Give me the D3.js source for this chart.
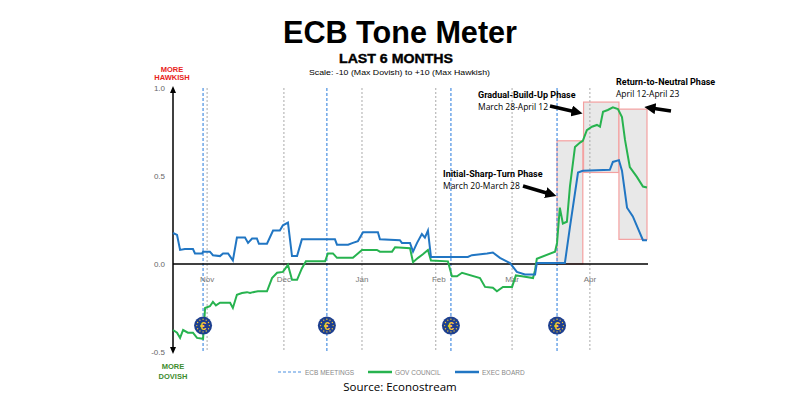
<!DOCTYPE html>
<html><head><meta charset="utf-8">
<script src="https://cdn.jsdelivr.net/npm/d3@7"></script>
<style>body{margin:0;background:#fff}svg{font-family:"Liberation Sans",Arial,sans-serif}</style>
</head><body><svg id="c" width="800" height="418"></svg>
<script>
// days since 18 Oct 2023
const execDays=[0,1.6,2.8,4.7,7.9,8.7,11.5,11.9,14.6,15.8,18.6,19.8,21.8,23.7,25.3,28.5,29.7,31.3,33.2,34,37.2,39.6,42.3,43.5,45.5,47.1,49.1,51,64.1,64.9,69.3,71.2,73.2,75.2,81.1,81.9,89.8,90.6,93.8,95,96.6,98.5,99.7,100.9,102.1,116.7,118.3,124.3,126.6,129.4,133.4,136.1,139.3,143.3,144,150.4,152,155.1,157.1,160.3,162.2,172.9,174.1,176.5,177.7,179.7,182,186,187.6];
const execVals=[.176,.165,.08,.085,.085,.06,.06,.07,.07,.05,.045,.06,.06,.02,.15,.15,.12,.145,.145,.115,.115,.19,.19,.22,.235,.045,.045,.14,.14,.11,.11,.12,.13,.18,.18,.14,.135,.12,.12,.07,.12,.17,.15,.19,.04,.04,.05,.06,.065,.035,.005,-.045,-.06,-.06,.005,.005,.005,.005,.21,.52,.53,.535,.58,.59,.53,.32,.27,.135,.135];
const govDays=[0,1.6,2.8,4,5.9,7.9,9.5,11.9,12.7,14.6,15.8,17,18.6,22.6,23.7,25.3,27.3,29.3,30.5,31.7,33.6,37.2,39.2,41.2,43.5,45.5,47.1,49.1,51,52.6,60.2,61.3,63.3,64.9,71.2,74.8,80.7,81.9,86.7,87.9,93.8,95,97,98.9,100.9,102.1,108.8,110.4,112.4,114.4,121.5,123.5,126.6,128.2,130.6,134.2,135.7,138.1,142.5,143.3,144,151.2,152,153.1,154.3,155.9,157.1,159.1,161.1,162.2,163.8,165.8,167.8,169,170.2,172.1,174.1,176.1,177.7,178.9,180.8,183.6,186,187.6];
const govVals=[-.375,-.39,-.42,-.375,-.39,-.39,-.42,-.425,-.25,-.24,-.215,-.235,-.22,-.22,-.25,-.175,-.165,-.16,-.165,-.16,-.155,-.155,-.08,-.05,-.045,-.005,-.09,-.09,-.025,.015,.015,.06,.06,.035,.035,.08,.08,.07,.07,.095,.09,.01,.035,.055,.08,.02,.015,-.07,-.07,-.05,-.08,-.13,-.135,-.155,-.13,-.13,-.065,-.07,-.08,-.035,.03,.07,.12,.32,.23,.24,.44,.665,.69,.7,.76,.78,.79,.78,.865,.875,.89,.88,.835,.705,.55,.495,.44,.435];
const meetingDays=[11.9,60.9,110,152];
const gridDays=[13.5,43.9,74.8,104,134.2,165];
const monthLabels=["Nov","Dec","Jan","Feb","Mar","Apr"];
const monthDays=[13.5,43.9,74.8,105.2,134.2,165];
const yTicks=[1.0,0.5,0.0,-0.5];
const phases=[{d0:152,d1:162.2,v0:0,v1:0.70},{d0:162.5,d1:176.5,v0:0.52,v1:0.92},{d0:176.5,d1:187.6,v0:0.14,v1:0.88}];
const phaseNames=["Initial-Sharp-Turn Phase","Gradual-Build-Up Phase","Return-to-Neutral Phase"];
const phaseDates=["March 20-March 28","March 28-April 12","April 12-April 23"];

const svg=d3.select("#c");
const x=d3.scaleLinear().domain([0,188]).range([173,648]);
const y=d3.scaleLinear().domain([-0.5,1.0]).range([352,88]);
const G="#27b34f",B="#2176c3";

svg.append("text").attr("x",283).attr("y",43).attr("font-weight","bold").attr("font-size",31).attr("textLength",234).attr("lengthAdjust","spacingAndGlyphs").text("ECB Tone Meter");
svg.append("text").attr("x",339).attr("y",63).attr("font-weight","900").attr("font-size",13).attr("textLength",114).attr("lengthAdjust","spacingAndGlyphs").attr("stroke","#000").attr("stroke-width",0.4).text("LAST 6 MONTHS");
svg.append("text").attr("x",309).attr("y",75).attr("font-size",7.5).attr("textLength",181).attr("lengthAdjust","spacingAndGlyphs").text("Scale: -10 (Max Dovish)  to +10 (Max Hawkish)");

phases.forEach(p=>svg.append("rect").attr("x",x(p.d0)).attr("width",x(p.d1)-x(p.d0)).attr("y",y(p.v1)).attr("height",y(p.v0)-y(p.v1)).attr("fill","#e8e8e8").attr("stroke","#f4a0a0").attr("stroke-width",1.2));

gridDays.forEach(d=>svg.append("line").attr("x1",x(d)).attr("x2",x(d)).attr("y1",88).attr("y2",352).attr("stroke","#aaa").attr("stroke-width",1).attr("stroke-dasharray","2,2"));
meetingDays.forEach(d=>svg.append("line").attr("x1",x(d)).attr("x2",x(d)).attr("y1",88).attr("y2",352).attr("stroke","#4a90e2").attr("stroke-width",1.2).attr("stroke-dasharray","3,2"));

yTicks.forEach(t=>svg.append("text").attr("x",165).attr("y",y(t)+3).attr("text-anchor","end").attr("font-size",8).attr("fill","#666").text(t.toFixed(1)));
svg.append("line").attr("x1",173).attr("x2",648).attr("y1",y(0)).attr("y2",y(0)).attr("stroke","#000").attr("stroke-width",1.3);
svg.append("line").attr("x1",173).attr("x2",173).attr("y1",91).attr("y2",349).attr("stroke","#000").attr("stroke-width",1.5);
svg.append("path").attr("d","M173,86 L170,93 L176,93Z M173,354 L170,347 L176,347Z").attr("fill","#000");
monthDays.forEach((d,i)=>svg.append("text").attr("x",x(d)).attr("y",282).attr("text-anchor","middle").attr("font-size",8).attr("fill","#777").text(monthLabels[i]));

const line=(ds,vs)=>d3.line().x((_,i)=>x(ds[i])).y(v=>y(v))(vs);
svg.append("path").attr("d",line(govDays,govVals)).attr("fill","none").attr("stroke",G).attr("stroke-width",2);
svg.append("path").attr("d",line(execDays,execVals)).attr("fill","none").attr("stroke",B).attr("stroke-width",2);

meetingDays.forEach(d=>{const g=svg.append("g").attr("transform",`translate(${x(d)},${y(-0.35)})`);
 g.append("circle").attr("r",9).attr("fill","#1d3f8f");
 d3.range(12).forEach(k=>{const a=k*Math.PI/6;g.append("circle").attr("cx",6.3*Math.cos(a)).attr("cy",6.3*Math.sin(a)).attr("r",0.7).attr("fill","#f2c531");});
 g.append("text").attr("y",4).attr("text-anchor","middle").attr("font-size",11).attr("fill","#f2c531").attr("font-weight","bold").text("€");});

[["MORE",72],["HAWKISH",80]].forEach(a=>svg.append("text").attr("x",172).attr("y",a[1]).attr("text-anchor","middle").attr("font-size",7.5).attr("font-weight","bold").attr("fill","#e8221b").text(a[0]));
[["MORE",369],["DOVISH",379]].forEach(a=>svg.append("text").attr("x",173).attr("y",a[1]).attr("text-anchor","middle").attr("font-size",7.5).attr("font-weight","bold").attr("fill","#3c8c2e").text(a[0]));

const lg=[["ECB MEETINGS","#4a90e2",278,"3,2",1.2],["GOV COUNCIL",G,368,null,2.5],["EXEC BOARD",B,455,null,2.5]];
lg.forEach(l=>{svg.append("line").attr("x1",l[2]).attr("x2",l[2]+24).attr("y1",372).attr("y2",372).attr("stroke",l[1]).attr("stroke-width",l[4]).attr("stroke-dasharray",l[3]);
 svg.append("text").attr("x",l[2]+27).attr("y",374.5).attr("font-size",6.5).attr("fill","#888").text(l[0]);});
svg.append("text").attr("x",400).attr("y",391).attr("text-anchor","middle").attr("font-family","Open Sans, sans-serif").attr("font-size",11.5).text("Source: Econostream");

const ann=[[443,177,"M523,186 L550,194"],[478,98,"M550,106 L576,112"],[616,85,"M671,111 L651,108"]];
ann.forEach((a,i)=>{svg.append("text").attr("x",a[0]).attr("y",a[1]).attr("font-size",9).attr("font-weight","bold").attr("font-family","Roboto, sans-serif").text(phaseNames[i]);
 svg.append("text").attr("x",a[0]).attr("y",a[1]+12).attr("font-size",8.5).attr("font-family","Open Sans, sans-serif").text(phaseDates[i]);});
svg.append("defs").append("marker").attr("id","ah").attr("viewBox","0 0 10 10").attr("refX",4).attr("refY",5).attr("markerWidth",3.2).attr("markerHeight",3.2).attr("orient","auto").append("path").attr("d","M0,0 L10,5 L0,10Z").attr("fill","#000");
ann.forEach(a=>svg.append("path").attr("d",a[2]).attr("stroke","#000").attr("stroke-width",3.5).attr("marker-end","url(#ah)"));
</script></body></html>
